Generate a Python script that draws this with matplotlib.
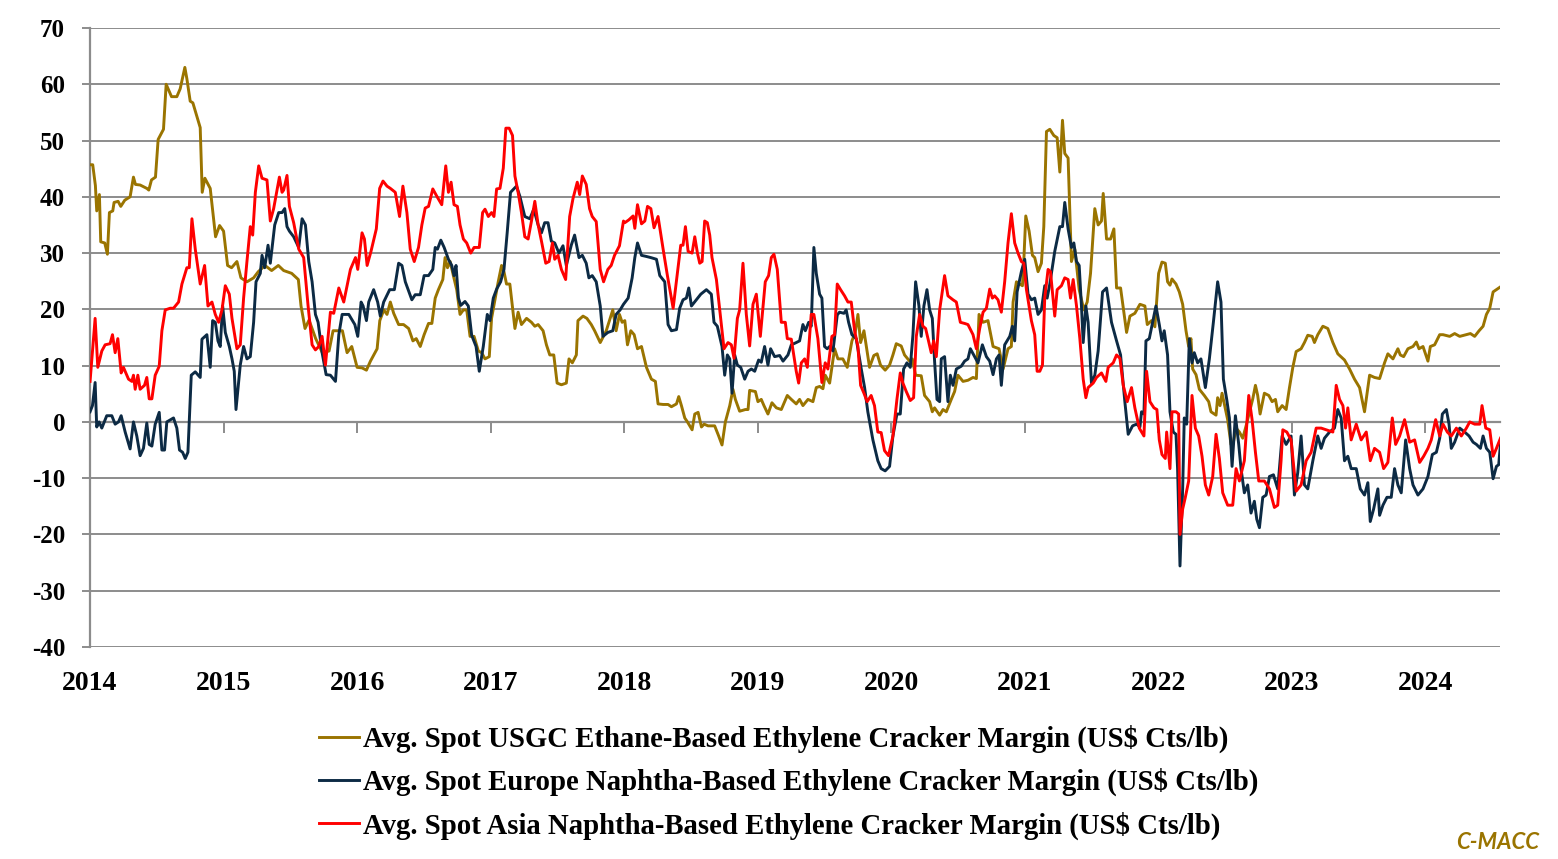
import matplotlib
matplotlib.use("Agg")
import matplotlib.pyplot as plt

# Avg. Spot USGC ethane-based cracker margin (US$ cts/lb)
usgc_t = [
    2014.00, 2014.02, 2014.04, 2014.05, 2014.07, 2014.08, 2014.11, 2014.13, 2014.145, 2014.17, 2014.18, 2014.21,
    2014.23, 2014.26, 2014.30, 2014.325, 2014.34, 2014.375, 2014.425, 2014.44, 2014.46, 2014.49, 2014.51, 2014.55,
    2014.57, 2014.61, 2014.65, 2014.675, 2014.71, 2014.725, 2014.75, 2014.77, 2014.825, 2014.84, 2014.86, 2014.90,
    2014.94, 2014.97, 2015.00, 2015.03, 2015.06, 2015.10, 2015.13, 2015.175, 2015.225, 2015.26, 2015.31, 2015.36,
    2015.41, 2015.45, 2015.51, 2015.56, 2015.58, 2015.61, 2015.64, 2015.69, 2015.74, 2015.79, 2015.82, 2015.89,
    2015.925, 2015.96, 2016.00,
    2016.037, 2016.07, 2016.10, 2016.15, 2016.17, 2016.20, 2016.224, 2016.249, 2016.274, 2016.311, 2016.348,
    2016.386, 2016.418, 2016.443, 2016.473, 2016.502, 2016.535, 2016.56, 2016.585, 2016.609, 2016.642, 2016.659,
    2016.677, 2016.697, 2016.721, 2016.746, 2016.771, 2016.796, 2016.821, 2016.846, 2016.876, 2016.908, 2016.933,
    2016.958, 2016.99, 2017.007, 2017.032, 2017.057, 2017.082, 2017.10, 2017.119, 2017.144, 2017.182, 2017.206,
    2017.231, 2017.269, 2017.306, 2017.331, 2017.356, 2017.393, 2017.418, 2017.443, 2017.473, 2017.498, 2017.53,
    2017.567, 2017.587, 2017.612, 2017.642, 2017.654, 2017.692, 2017.721, 2017.754, 2017.779, 2017.821, 2017.866,
    2017.915, 2017.94, 2017.965, 2017.985,
    2018.005, 2018.025, 2018.05, 2018.075, 2018.10, 2018.13, 2018.167, 2018.204, 2018.234, 2018.254, 2018.292,
    2018.329, 2018.354, 2018.392, 2018.409, 2018.429, 2018.454, 2018.474, 2018.509, 2018.529, 2018.554, 2018.579,
    2018.599, 2018.628, 2018.678, 2018.708, 2018.733, 2018.758, 2018.791, 2018.815, 2018.833, 2018.865, 2018.908,
    2018.928, 2018.94, 2018.983, 2019.002, 2019.027, 2019.047, 2019.077, 2019.107, 2019.14, 2019.177, 2019.222,
    2019.252, 2019.289, 2019.314, 2019.339, 2019.377, 2019.414, 2019.439, 2019.464, 2019.489, 2019.506, 2019.539,
    2019.576, 2019.601, 2019.638, 2019.671, 2019.706, 2019.731, 2019.751, 2019.771, 2019.796, 2019.838, 2019.87,
    2019.895, 2019.92, 2019.955, 2019.988,
    2020.013, 2020.038, 2020.075, 2020.10, 2020.138, 2020.158, 2020.183, 2020.225, 2020.25, 2020.288, 2020.308,
    2020.325, 2020.363, 2020.388, 2020.413, 2020.45, 2020.475, 2020.50, 2020.538, 2020.575, 2020.613, 2020.638,
    2020.658, 2020.688, 2020.725, 2020.763, 2020.808, 2020.838, 2020.875, 2020.90, 2020.913, 2020.938, 2020.983,
    2020.993, 2021.008, 2021.033, 2021.058, 2021.075, 2021.10, 2021.125, 2021.143, 2021.163, 2021.188, 2021.218,
    2021.243, 2021.263, 2021.283, 2021.30, 2021.325, 2021.35, 2021.375, 2021.408, 2021.443, 2021.468, 2021.493,
    2021.525, 2021.55, 2021.575, 2021.588, 2021.613, 2021.643, 2021.668, 2021.688, 2021.718, 2021.763, 2021.788,
    2021.825, 2021.863, 2021.90, 2021.918, 2021.95, 2021.975,
    2022.003, 2022.028, 2022.053, 2022.07, 2022.088, 2022.103, 2022.133, 2022.158, 2022.183, 2022.208, 2022.228,
    2022.245, 2022.258, 2022.283, 2022.308, 2022.345, 2022.378, 2022.395, 2022.433, 2022.445, 2022.463, 2022.478,
    2022.495, 2022.52, 2022.545, 2022.563, 2022.583, 2022.608, 2022.633, 2022.658, 2022.688, 2022.708, 2022.728,
    2022.745, 2022.763, 2022.795, 2022.828, 2022.853, 2022.878, 2022.895, 2022.928, 2022.958, 2022.983, 2023.008,
    2023.033, 2023.07, 2023.095, 2023.12, 2023.153, 2023.17, 2023.195, 2023.233, 2023.27, 2023.308, 2023.345,
    2023.395, 2023.433, 2023.47, 2023.508, 2023.545, 2023.583, 2023.62, 2023.658, 2023.695, 2023.72, 2023.758,
    2023.795, 2023.813, 2023.838, 2023.87, 2023.908, 2023.933, 2023.953, 2023.983, 2024.02, 2024.038, 2024.07,
    2024.108, 2024.133, 2024.183, 2024.22, 2024.258, 2024.308, 2024.338, 2024.37, 2024.403, 2024.433, 2024.458,
    2024.483, 2024.508, 2024.533, 2024.563,
]
usgc_v = [
    45.7, 45.7, 42, 37.5, 40.4, 32, 31.8, 29.8, 37.2, 37.5, 39, 39.2,
    38.3, 39.4, 40, 43.5, 42.2, 42.1, 41.5, 41.2, 43, 43.5, 50.2, 52,
    60, 57.8, 57.8, 59.2, 63, 61, 57, 56.7, 52.3, 40.8, 43.3, 41.5,
    32.9, 34.9, 33.9, 27.8, 27.4, 28.5, 25.6, 24.9, 25.6, 26.7, 27.8, 26.9,
    27.8, 26.9, 26.4, 25.3, 20.6, 16.6, 18.1, 14.8, 12.3, 12.6, 16.2, 16.2,
    12.3, 13.4, 9.7,
    9.6, 9.2, 10.8, 13, 18, 19.9, 19.1, 21.3, 19.3, 17.3, 17.3,
    16.6, 14.4, 14.8, 13.4, 15.5, 17.5, 17.5, 22, 23.5, 25.3, 29.2,
    27.4, 28.5, 26, 23.5, 19.1, 19.9, 19.9, 15.2, 15.2, 12.6, 12.3,
    11.2, 11.6, 18.4, 21.7, 24.9, 27.8, 26.7, 24.5, 24.5, 16.6, 19.5,
    17.3, 18.4, 17.7, 17, 17.3, 16.2, 13.7, 11.9, 11.9, 6.9, 6.6,
    6.9, 11.2, 10.5, 11.9, 18, 18.8, 18.4, 17.3, 16.2, 14.1, 16.2,
    19.9, 16.2, 19.1, 17.7,
    18, 13.7, 16.2, 15.5, 13, 13.4, 9.7, 7.6, 7.2, 3.2, 3.1,
    3.1, 2.7, 3.2, 4.5, 2.9, 0.7, 0, -1.4, 1.4, 1.7, -0.9,
    -0.4, -0.7, -0.7, -2.5, -4.1, 0, 2.9, 5.8, 4, 1.9, 2.2,
    2.2, 5.6, 5.4, 3.6, 4, 2.9, 1.4, 3.4, 2.5, 2.2, 4.7,
    4, 3.2, 4, 2.9, 4, 3.6, 6.1, 6.3, 5.9, 8.3, 6.9,
    13, 11.2, 11.2, 9.7, 14.4, 15.9, 19.1, 14.1, 16.2, 9.7, 11.8,
    12.1, 10.1, 9.2, 10.1,
    11.9, 13.9, 13.5, 11.9, 10.8, 11.2, 8.3, 8.2, 4.7, 3.6, 1.8,
    2.5, 1.2, 2.2, 1.8, 4, 5.4, 8.3, 7.2, 7.4, 7.9, 7.7,
    19.1, 17.7, 18, 13.4, 13, 9.4, 13, 13.4, 21.3, 24.9, 24.2,
    28.5, 36.6, 33.9, 29.6, 29.2, 26.7, 28.2, 34.7, 51.6, 52, 50.9,
    50.5, 44.4, 53.6, 47.7, 46.9, 28.5, 30.7, 23.5, 19.9, 21.3, 26.4,
    37.9, 35, 35.7, 40.6, 32.5, 32.5, 34.3, 23.8, 23.8, 15.9, 18.8,
    19.3, 20.9, 20.6, 17.3, 18, 16.9,
    26.4, 28.4, 28.2, 24.9, 24.3, 25.4, 24.5, 23.1, 20.9, 16.2, 13.4,
    14.8, 9.4, 8.4, 5.8, 4.7, 3.6, 1.8, 1.2, 4.3, 2.9, 5.1,
    3.2, 0.4, -4, -3.6, -1.1, -1.8, -2.9, -0.7, 2.2, 4.1, 6.5,
    4.7, 1.4, 5.1, 4.7, 3.6, 4, 1.8, 2.9, 2.2, 6.1, 9.7,
    12.5, 13, 14.1, 15.4, 15.2, 14.1, 15.5, 17, 16.6, 14.1, 12.1,
    11, 9.4, 7.6, 6.1, 1.8, 8.3, 7.9, 7.7, 10.5, 12.1, 11.2,
    13, 11.9, 11.6, 13, 13.4, 14.2, 13, 13.4, 10.8, 13.4, 13.7,
    15.5, 15.5, 15.2, 15.7, 15.2, 15.5, 15.7, 15.2, 16.2, 17, 19.1,
    20.2, 23.1, 23.5, 24,
]

# Avg. Spot Europe naphtha-based cracker margin
europe_t = [
    2014.00, 2014.018, 2014.038, 2014.05, 2014.068, 2014.088, 2014.125, 2014.163, 2014.188, 2014.213, 2014.233,
    2014.263, 2014.30, 2014.325, 2014.35, 2014.375, 2014.40, 2014.425, 2014.443, 2014.463, 2014.488, 2014.518,
    2014.538, 2014.558, 2014.575, 2014.625, 2014.65, 2014.67, 2014.693, 2014.713, 2014.733, 2014.758, 2014.788,
    2014.825, 2014.838, 2014.875, 2014.90, 2014.918, 2014.938, 2014.958, 2014.975, 2014.993, 2015.013, 2015.043,
    2015.063, 2015.08, 2015.093, 2015.125, 2015.15, 2015.175, 2015.20, 2015.225, 2015.243, 2015.275, 2015.288,
    2015.308, 2015.333, 2015.35, 2015.383, 2015.413, 2015.438, 2015.458, 2015.475, 2015.493, 2015.525, 2015.563,
    2015.588, 2015.613, 2015.638, 2015.663, 2015.688, 2015.708, 2015.738, 2015.768, 2015.80, 2015.838, 2015.863,
    2015.888, 2015.938, 2015.983,
    2016.005, 2016.03, 2016.045, 2016.07, 2016.087, 2016.124, 2016.154, 2016.174, 2016.199, 2016.244, 2016.279,
    2016.311, 2016.336, 2016.361, 2016.41, 2016.435, 2016.473, 2016.502, 2016.535, 2016.567, 2016.585, 2016.602,
    2016.627, 2016.652, 2016.684, 2016.709, 2016.726, 2016.741, 2016.759, 2016.776, 2016.808, 2016.833, 2016.858,
    2016.891, 2016.915, 2016.945, 2016.975, 2016.995, 2017.02, 2017.045, 2017.075, 2017.10, 2017.124, 2017.149,
    2017.174, 2017.194, 2017.219, 2017.256, 2017.294, 2017.323, 2017.356, 2017.381, 2017.405, 2017.43, 2017.455,
    2017.48, 2017.512, 2017.542, 2017.567, 2017.604, 2017.629, 2017.662, 2017.687, 2017.716, 2017.736, 2017.761,
    2017.791, 2017.821, 2017.841, 2017.878, 2017.915, 2017.94, 2017.97, 2017.995,
    2018.03, 2018.06, 2018.08, 2018.10, 2018.13, 2018.167, 2018.20, 2018.242, 2018.267, 2018.304, 2018.329,
    2018.354, 2018.392, 2018.416, 2018.441, 2018.466, 2018.484, 2018.504, 2018.541, 2018.574, 2018.616, 2018.653,
    2018.673, 2018.698, 2018.733, 2018.753, 2018.773, 2018.791, 2018.808, 2018.828, 2018.848, 2018.873, 2018.903,
    2018.928, 2018.953, 2018.978, 2019.007, 2019.027, 2019.052, 2019.077, 2019.097, 2019.127, 2019.165, 2019.19,
    2019.227, 2019.252, 2019.289, 2019.314, 2019.339, 2019.357, 2019.382, 2019.401, 2019.421, 2019.439, 2019.464,
    2019.481, 2019.501, 2019.521, 2019.539, 2019.564, 2019.596, 2019.613, 2019.646, 2019.663, 2019.681, 2019.706,
    2019.738, 2019.776, 2019.801, 2019.825, 2019.863, 2019.90, 2019.925, 2019.955, 2019.988,
    2020.013, 2020.043, 2020.068, 2020.093, 2020.118, 2020.143, 2020.163, 2020.183, 2020.208, 2020.225, 2020.245,
    2020.268, 2020.288, 2020.308, 2020.325, 2020.343, 2020.363, 2020.375, 2020.40, 2020.425, 2020.443, 2020.463,
    2020.488, 2020.525, 2020.55, 2020.575, 2020.593, 2020.625, 2020.65, 2020.683, 2020.713, 2020.738, 2020.763,
    2020.788, 2020.808, 2020.825, 2020.85, 2020.888, 2020.908, 2020.925, 2020.943, 2020.975, 2021.00, 2021.025,
    2021.05, 2021.075, 2021.10, 2021.125, 2021.15, 2021.168, 2021.188, 2021.225, 2021.263, 2021.283, 2021.30,
    2021.325, 2021.35, 2021.368, 2021.388, 2021.408, 2021.425, 2021.438, 2021.458, 2021.475, 2021.50, 2021.525,
    2021.55, 2021.583, 2021.613, 2021.65, 2021.688, 2021.718, 2021.75, 2021.775, 2021.808, 2021.838, 2021.863,
    2021.875, 2021.893, 2021.908, 2021.933, 2021.958, 2021.983,
    2022.008, 2022.028, 2022.045, 2022.07, 2022.088, 2022.113, 2022.133, 2022.145, 2022.163, 2022.183, 2022.195,
    2022.213, 2022.233, 2022.253, 2022.27, 2022.295, 2022.32, 2022.353, 2022.383, 2022.413, 2022.445, 2022.47,
    2022.488, 2022.513, 2022.533, 2022.553, 2022.578, 2022.603, 2022.62, 2022.645, 2022.67, 2022.695, 2022.72,
    2022.738, 2022.758, 2022.783, 2022.808, 2022.833, 2022.863, 2022.895, 2022.928, 2022.958, 2022.995, 2023.02,
    2023.045, 2023.07, 2023.095, 2023.12, 2023.158, 2023.195, 2023.22, 2023.245, 2023.283, 2023.32, 2023.345,
    2023.37, 2023.395, 2023.42, 2023.445, 2023.483, 2023.513, 2023.545, 2023.57, 2023.588, 2023.613, 2023.645,
    2023.658, 2023.683, 2023.713, 2023.745, 2023.77, 2023.795, 2023.82, 2023.853, 2023.883, 2023.908, 2023.945,
    2023.983, 2024.02, 2024.053, 2024.083, 2024.108, 2024.128, 2024.158, 2024.178, 2024.195, 2024.22, 2024.258,
    2024.295, 2024.328, 2024.358, 2024.383, 2024.413, 2024.433, 2024.458, 2024.483, 2024.508, 2024.533, 2024.55,
    2024.563,
]
europe_v = [
    1.8, 2.9, 7, -0.9, 0, -1.1, 1.1, 1.1, -0.4, 0, 1.1,
    -1.8, -4.8, 0, -2.5, -6, -4.7, -0.2, -4, -4.3, -0.4, 1.7,
    -5, -5, 0, 0.7, -1.1, -5, -5.4, -6.5, -5.4, 8.3, 8.9,
    7.9, 14.7, 15.5, 9.7, 18, 17.7, 14.4, 13.4, 20.6, 15.9, 13.4,
    11.2, 9, 2.2, 10.1, 13.4, 11.2, 11.6, 17.7, 24.9, 26.4, 29.6,
    27.4, 31.4, 28.2, 35, 37.2, 37.2, 37.9, 34.7, 33.9, 32.9, 31,
    36.1, 35, 28.5, 24.9, 19.1, 17.7, 12.3, 8.4, 8.3, 7.2, 15.5,
    19.1, 19.1, 17.3,
    15.2, 21.3, 20.6, 18, 21.3, 23.5, 21.3, 18.8, 21.3, 23.5, 23.5,
    28.2, 27.8, 24.9, 21.7, 22.6, 22.6, 26, 26, 27.1, 31, 30.7,
    32.3, 31, 28.9, 27.8, 26, 27.8, 22, 20.7, 21.4, 20.6, 15.4,
    13.4, 9, 13.4, 19.1, 18, 22, 23.6, 24.9, 27.1, 33.6, 40.8,
    41.4, 41.9, 40.1, 36.5, 36.1, 37.8, 35, 33.6, 35.4, 35.4, 32.1,
    31.8, 30, 31.3, 27.8, 31.4, 33.2, 29.2, 29.6, 28.2, 25.6, 26,
    24.9, 20.6, 15.2, 15.9, 16.2, 19.1, 19.9, 20.9,
    22, 25.6, 29.2, 31.8, 29.6, 29.4, 29.2, 28.9, 26, 24.9, 17.3,
    16.2, 16.4, 20.2, 21.7, 22, 23.8, 20.6, 21.7, 22.7, 23.5, 22.7,
    17.7, 17, 13.4, 8.3, 11.9, 11.2, 5.1, 11.9, 10.1, 9.7, 7.6,
    9, 9.4, 9, 11, 10.6, 13.4, 10.1, 13, 11.6, 11.8, 10.8,
    11.9, 13.7, 14.1, 14.4, 17.3, 16.2, 17.7, 17, 31, 26.4, 22.7,
    22, 13.4, 13, 13.4, 12.6, 19, 19.5, 19.3, 19.9, 17.7, 15.5,
    14.8, 9.4, 6.1, 1.8, -3.2, -6.9, -8.3, -8.7, -7.9,
    -2.5, 1.4, 1.4, 9.4, 10.5, 9.7, 15.5, 24.9, 20.6, 15.2, 20.6,
    23.5, 19.9, 18.4, 10.8, 4, 3.6, 11.2, 11.6, 3.6, 8.3, 6.5,
    9.4, 9.9, 10.8, 11.2, 13, 11.6, 10.5, 13.7, 11.6, 10.8, 8.4,
    11.2, 11.9, 6.5, 13.7, 15.2, 17, 14.4, 23.1, 26.7, 28.9, 22.7,
    21.7, 22, 19.1, 19.9, 24.2, 22, 24.5, 30.3, 34.7, 34.7, 39,
    34.3, 31, 31.8, 28.5, 27.8, 20.6, 14.1, 20.6, 17.7, 6.9, 8.3,
    12.6, 23.1, 23.8, 17.7, 14.4, 11.9, 3.6, -2.2, -0.7, -0.4, -0.9,
    1.8, 1.4, 14.4, 14.8, 17.7, 20.6,
    17.3, 14.4, 16.2, 11.9, 1.8, -1.8, -2.2, -8.3, -25.6, -11.9, 0.7,
    -0.4, 14.8, 10.5, 12.3, 10.5, 11.2, 6.1, 11.2, 17.7, 24.9, 21.3,
    7.6, 4, 0.7, -7.9, 1.1, -4, -8.3, -12.6, -11.2, -16.2, -14.1,
    -17.3, -18.8, -13.4, -13, -9.7, -9.4, -11.9, -2.5, -4, -2.5, -13,
    -9, -2.5, -11.2, -11.9, -6.9, -2.5, -4.7, -2.9, -1.8, -1.1, 2.2,
    0.7, -6.9, -6.1, -8.3, -8.3, -11.9, -13, -10.8, -17.7, -15.5, -11.9,
    -16.6, -14.8, -13.4, -13.4, -8.3, -11.2, -12.6, -3.2, -8.3, -11.2, -13,
    -11.9, -9.7, -5.8, -5.4, -2.9, 1.4, 2.2, -0.4, -4.7, -3.6, -1.1,
    -1.8, -2.5, -3.6, -4, -4.7, -2.5, -4.7, -5.4, -10.1, -7.9, -7.6,
    -4,
]

# Avg. Spot Asia naphtha-based cracker margin
asia_t = [
    2014.00, 2014.038, 2014.058, 2014.088, 2014.113, 2014.15, 2014.168, 2014.188, 2014.208, 2014.233, 2014.25,
    2014.288, 2014.313, 2014.325, 2014.338, 2014.358, 2014.375, 2014.408, 2014.425, 2014.443, 2014.463, 2014.488,
    2014.518, 2014.538, 2014.563, 2014.60, 2014.625, 2014.663, 2014.688, 2014.725, 2014.743, 2014.763, 2014.788,
    2014.825, 2014.858, 2014.883, 2014.913, 2014.938, 2014.963, 2014.988, 2015.013, 2015.043, 2015.063, 2015.10,
    2015.125, 2015.15, 2015.175, 2015.20, 2015.218, 2015.238, 2015.263, 2015.288, 2015.325, 2015.35, 2015.375,
    2015.40, 2015.418, 2015.438, 2015.45, 2015.475, 2015.493, 2015.525, 2015.563, 2015.60, 2015.633, 2015.663,
    2015.688, 2015.713, 2015.738, 2015.763, 2015.80, 2015.825, 2015.863, 2015.90, 2015.95, 2015.988,
    2016.005, 2016.037, 2016.055, 2016.075, 2016.104, 2016.144, 2016.169, 2016.194, 2016.224, 2016.249, 2016.286,
    2016.318, 2016.343, 2016.373, 2016.398, 2016.428, 2016.46, 2016.485, 2016.51, 2016.535, 2016.567, 2016.597,
    2016.634, 2016.664, 2016.684, 2016.704, 2016.726, 2016.751, 2016.771, 2016.796, 2016.821, 2016.851, 2016.876,
    2016.915, 2016.94, 2016.958, 2016.983, 2017.007, 2017.025, 2017.045, 2017.07, 2017.095, 2017.114, 2017.139,
    2017.164, 2017.182, 2017.206, 2017.231, 2017.256, 2017.281, 2017.306, 2017.331, 2017.356, 2017.381, 2017.413,
    2017.438, 2017.463, 2017.48, 2017.505, 2017.53, 2017.562, 2017.592, 2017.617, 2017.649, 2017.667, 2017.687,
    2017.716, 2017.741, 2017.761, 2017.791, 2017.821, 2017.846, 2017.878, 2017.903, 2017.928, 2017.965, 2017.995,
    2018.005, 2018.035, 2018.067, 2018.08, 2018.10, 2018.13, 2018.155, 2018.175, 2018.20, 2018.224, 2018.254,
    2018.292, 2018.324, 2018.367, 2018.399, 2018.424, 2018.441, 2018.459, 2018.479, 2018.509, 2018.529, 2018.549,
    2018.566, 2018.584, 2018.603, 2018.623, 2018.641, 2018.658, 2018.691, 2018.723, 2018.748, 2018.778, 2018.803,
    2018.823, 2018.848, 2018.865, 2018.89, 2018.915, 2018.94, 2018.965, 2018.99, 2019.02, 2019.057, 2019.082,
    2019.102, 2019.122, 2019.147, 2019.177, 2019.207, 2019.222, 2019.252, 2019.289, 2019.307, 2019.327, 2019.352,
    2019.372, 2019.401, 2019.421, 2019.451, 2019.481, 2019.506, 2019.526, 2019.556, 2019.576, 2019.596, 2019.621,
    2019.651, 2019.676, 2019.701, 2019.726, 2019.751, 2019.771, 2019.796, 2019.82, 2019.85, 2019.875, 2019.90,
    2019.925, 2019.95, 2019.98,
    2020.013, 2020.043, 2020.068, 2020.088, 2020.113, 2020.143, 2020.168, 2020.188, 2020.213, 2020.238, 2020.258,
    2020.30, 2020.318, 2020.338, 2020.363, 2020.40, 2020.425, 2020.463, 2020.488, 2020.518, 2020.55, 2020.575,
    2020.613, 2020.638, 2020.663, 2020.688, 2020.713, 2020.738, 2020.758, 2020.775, 2020.80, 2020.825, 2020.85,
    2020.875, 2020.90, 2020.925, 2020.95, 2020.975, 2020.993, 2021.013, 2021.05, 2021.075, 2021.093, 2021.113,
    2021.133, 2021.15, 2021.175, 2021.193, 2021.225, 2021.243, 2021.275, 2021.30, 2021.325, 2021.343, 2021.363,
    2021.388, 2021.413, 2021.438, 2021.458, 2021.475, 2021.513, 2021.538, 2021.575, 2021.608, 2021.625, 2021.663,
    2021.688, 2021.713, 2021.738, 2021.768, 2021.80, 2021.825, 2021.858, 2021.893, 2021.913, 2021.938, 2021.968,
    2021.99,
    2022.008, 2022.028, 2022.053, 2022.063, 2022.088, 2022.103, 2022.133, 2022.153, 2022.163, 2022.183, 2022.203,
    2022.228, 2022.253, 2022.278, 2022.303, 2022.328, 2022.353, 2022.378, 2022.408, 2022.433, 2022.458, 2022.483,
    2022.52, 2022.558, 2022.583, 2022.608, 2022.645, 2022.678, 2022.703, 2022.728, 2022.753, 2022.795, 2022.833,
    2022.87, 2022.895, 2022.92, 2022.933, 2022.963, 2022.995, 2023.033, 2023.07, 2023.108, 2023.145, 2023.183,
    2023.22, 2023.258, 2023.308, 2023.333, 2023.358, 2023.383, 2023.403, 2023.42, 2023.445, 2023.483, 2023.52,
    2023.558, 2023.588, 2023.62, 2023.658, 2023.688, 2023.72, 2023.753, 2023.778, 2023.808, 2023.845, 2023.883,
    2023.92, 2023.958, 2023.988, 2024.02, 2024.045, 2024.078, 2024.108, 2024.133, 2024.165, 2024.195, 2024.233,
    2024.27, 2024.308, 2024.333, 2024.37, 2024.408, 2024.425, 2024.453, 2024.483, 2024.508, 2024.533, 2024.563,
]
asia_v = [
    7.2, 18.4, 9.7, 12.6, 13.7, 13.9, 15.5, 12.3, 14.8, 8.7, 9.7,
    7.6, 7.2, 8.3, 5.8, 8.3, 5.8, 6.5, 7.9, 4.1, 4.1, 8.3,
    9.9, 16.2, 19.9, 20.2, 20.2, 21.3, 24.5, 27.4, 27.4, 36.1, 30.7,
    24.5, 27.8, 20.6, 21.3, 19.1, 17.7, 19.9, 24.2, 22.7, 18.4, 13,
    13.7, 22, 28.5, 34.7, 33.2, 40.8, 45.5, 43.3, 43, 35.7, 37.9,
    41.2, 43.5, 40.8, 41.2, 43.8, 38.3, 35.4, 30.7, 29.2, 20.6, 13.7,
    12.8, 13.4, 15.2, 10.1, 19.5, 19.3, 23.8, 21.3, 27.1, 29.2,
    27.1, 33.6, 32.5, 27.8, 30.3, 34.3, 41.5, 42.8, 41.9, 41.5, 40.8,
    36.5, 41.9, 37.2, 30.7, 28.5, 31, 35, 38, 38.3, 41.4, 40.1,
    38.6, 45.5, 40.8, 42.6, 38.6, 38.3, 35, 32.5, 31.8, 30, 31,
    31, 37.2, 37.8, 36.5, 37.2, 36.5, 41.4, 41.5, 45.1, 52.2, 52.2,
    50.9, 43.7, 40.8, 37.2, 32.9, 32.5, 35.7, 39.2, 35, 32.1, 28.2,
    28.5, 31.8, 28.9, 29.6, 27.1, 25.3, 36.5, 39.7, 42.6, 40.4, 43.7,
    42.2, 37.9, 36.5, 35.6, 27.1, 24.9, 27.1, 27.8, 29.6, 31.3, 35.7,
    35.4, 35.9, 36.6, 34.4, 38.6, 35.2, 35.7, 38.3, 37.9, 34.5, 36.5,
    30.7, 26, 20.2, 26.4, 31.4, 31.4, 34.7, 30.3, 30, 32.9, 30,
    28.2, 28.5, 35.7, 35.4, 33.2, 29.2, 25.3, 18.4, 13, 14.1, 13.7,
    11.3, 18.4, 19.9, 28.2, 19.1, 13.5, 20.9, 22.7, 15.2, 24.9, 26,
    29.2, 29.8, 27.1, 17.7, 17.7, 14.8, 14.7, 9, 6.9, 10.5, 11.2,
    9.7, 19.1, 19.1, 14.8, 7, 10.5, 9.4, 15.2, 15.5, 24.5, 23.5,
    22.4, 21.3, 21.3, 16.2, 13.4, 6.5, 5.1, 3.6, 4.7, 2.9, -1.8,
    -1.9, -5.1, -6,
    -2.5, 4, 8.7, 6.9, 5.4, 3.8, 4.3, 15.2, 19.1, 17, 16.6,
    12.3, 14.4, 11.6, 19.9, 26, 22.4, 21.7, 21.3, 17.7, 17.5, 17.3,
    15.5, 13, 16.6, 19.5, 20.2, 23.6, 22, 22.4, 21.7, 19.5, 24.9,
    31.8, 37, 31.8, 30, 28.5, 28.2, 23.5, 18, 15.5, 9, 9,
    10.1, 22, 27.1, 26.7, 18.8, 23.5, 24.2, 25.6, 25.3, 22, 25.3,
    20.6, 14.8, 7.6, 4.3, 6.1, 6.9, 7.9, 8.7, 7.2, 9.7, 10.5,
    11.9, 11.3, 6.5, 3.6, 6.1, 2.5, -1.1, -2.5, 9, 3.6, 2.5,
    2.2,
    -3.2, -5.8, -6.5, -1.8, -8.3, 1.8, 1.8, 1.4, -20, -15.5, -13.4,
    -10.5, 4.7, -1.1, -2.5, -6.1, -11.2, -13, -9.7, -2.2, -6.5, -12.6,
    -14.8, -14.8, -8.3, -10.5, -6.9, 4.7, 0.4, -5.4, -10.5, -10.5, -11.9,
    -15.2, -14.8, -6.9, -1.4, -1.8, -3.2, -12.3, -11.2, -6.9, -5.4, -1.1,
    -1.1, -1.4, -1.8, 6.5, 4, 2.9, -1.1, 2.5, -3.2, -0.4, -3.2,
    -1.8, -6.9, -4.7, -5.4, -8.3, -7.2, 0.7, -4, -2.5, 0.4, -3.6,
    -3.2, -7.2, -6.1, -4.7, -3.2, 0.4, -2.5, -0.4, -1.8, -2.5, -1.1,
    -2.5, -1.1, 0, -0.4, -0.4, 2.9, -1.1, -1.4, -6.1, -4.7, -2.9,
]

years = list(range(2014, 2025))
yticks = list(range(-40, 71, 10))
labels = [
    "Avg. Spot USGC Ethane-Based Ethylene Cracker Margin (US$ Cts/lb)",
    "Avg. Spot Europe Naphtha-Based Ethylene Cracker Margin (US$ Cts/lb)",
    "Avg. Spot Asia Naphtha-Based Ethylene Cracker Margin (US$ Cts/lb)",
]
colors = ["#9A7400", "#0C2A44", "#FF0000"]

plt.rcParams["font.family"] = ["Liberation Serif", "DejaVu Serif"]
plt.rcParams["font.weight"] = "bold"

fig = plt.figure(figsize=(15.58, 8.59), dpi=100)
ax = fig.add_axes([0.0578, 0.2468, 0.9050, 0.7206])

grid_c = "#8C8C8C"
ax.plot(usgc_t, usgc_v, color=colors[0], lw=2.1, label=labels[0], zorder=3)
ax.plot(europe_t, europe_v, color=colors[1], lw=2.1, label=labels[1], zorder=4)
ax.plot(asia_t, asia_v, color=colors[2], lw=2.1, label=labels[2], zorder=5)

ax.set_xlim(2014, 2024.56)
ax.set_ylim(-40, 70)
ax.set_yticks(yticks)
ax.set_yticklabels([str(v) for v in yticks], fontsize=18, fontweight="bold")
ax.yaxis.grid(True, color=grid_c, lw=1.4)
ax.set_axisbelow(True)
ax.tick_params(axis="y", direction="out", length=6, width=1.4, color=grid_c, pad=12)

ax.set_xticks(years)
ax.set_xticklabels([str(y) for y in years], fontsize=20, fontweight="bold")
ax.tick_params(axis="x", length=0, pad=17)

for s in ["top", "right", "bottom"]:
    ax.spines[s].set_visible(False)
ax.spines["left"].set_color(grid_c)
ax.spines["left"].set_linewidth(1.6)

# x-axis line crosses at zero with tick marks
zero_ax = ax.secondary_xaxis(40 / 110)
zero_ax.set_xticks(years)
zero_ax.set_xticklabels([])
zero_ax.tick_params(axis="x", direction="out", length=8, width=1.4, color=grid_c)
zero_ax.spines["bottom"].set_color(grid_c)
zero_ax.spines["bottom"].set_linewidth(1.6)

leg = fig.legend(loc="center", bbox_to_anchor=(0.506, 0.0895), ncol=1, frameon=False,
                 prop={"family": "Liberation Serif", "weight": "bold", "size": 20.7},
                 handlelength=1.4, handletextpad=0.14, labelspacing=0.52)

fig.text(0.988, 0.007, "C-MACC", color="#9A7400", fontsize=16, fontstyle="italic",
         fontweight="bold", family="Lato", ha="right", va="bottom")

fig.savefig("out.png", dpi=100)
